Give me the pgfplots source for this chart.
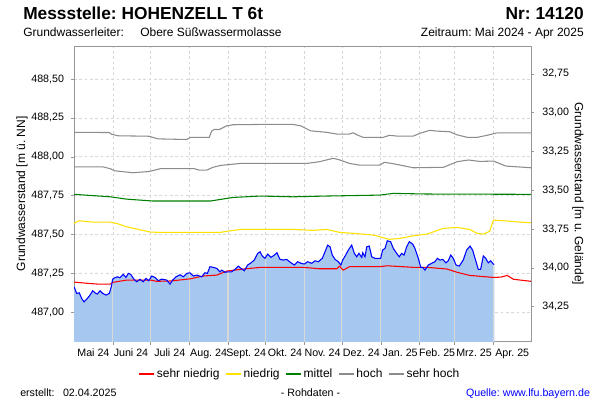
\documentclass[border=0pt]{standalone}
\usepackage{fontspec}
\setmainfont{Liberation Sans}
\usepackage{pgfplots}
\usepackage{pgfplotstable}
\pgfplotsset{compat=1.18}
\usepgfplotslibrary{fillbetween}
\frenchspacing

\definecolor{axisgray}{RGB}{150,150,150}
\definecolor{gridgray}{RGB}{215,215,215}
\definecolor{areablue}{RGB}{166,200,240}
\definecolor{levred}{RGB}{255,0,0}
\definecolor{levyellow}{RGB}{255,225,0}
\definecolor{levgreen}{RGB}{0,128,0}
\definecolor{levgray}{RGB}{140,140,140}

% Grundwasserstand, Tage ab 01.05.2024
\pgfplotstableread{
day level
0 487.163
2.2 487.120
4.2 487.124
6.1 487.088
8.0 487.066
10.1 487.082
12.8 487.109
14.9 487.137
16.8 487.124
18.6 487.116
20.8 487.137
22.9 487.120
25.6 487.109
28.2 487.120
29.8 487.163
30.9 487.212
32.7 487.221
34.6 487.227
36.7 487.221
39.4 487.243
41.5 487.223
43.4 487.249
45.3 487.243
47.4 487.217
50.1 487.195
52.7 487.211
55.3 487.195
57.5 487.217
59.7 487.202
62.1 487.232
64.7 487.223
67.3 487.202
70.0 487.212
74.0 487.206
76.7 487.180
78.8 487.206
81.5 487.227
84.7 487.240
87.3 487.227
90.0 487.249
92.6 487.253
95.3 487.232
98.0 487.238
102.0 487.227
104.6 487.253
106.5 487.249
108.6 487.292
111.3 487.288
114.0 487.281
116.6 487.259
118.0 487.270
120.6 487.256
123.2 487.259
125.9 487.259
128.6 487.275
131.2 487.296
133.4 487.281
136.0 487.266
138.7 487.303
141.4 487.317
144.0 487.335
146.7 487.378
148.6 487.388
150.4 487.361
152.5 487.346
154.7 487.373
157.3 487.352
160.0 487.367
162.1 487.382
164.5 487.339
167.2 487.335
169.9 487.339
173.3 487.317
176.0 487.303
178.7 487.324
181.3 487.314
183.9 487.309
186.6 487.324
189.8 487.314
192.5 487.330
195.1 487.324
198.3 487.346
200.5 487.388
202.6 487.431
204.5 487.420
206.3 487.367
208.5 487.339
211.1 487.324
213.2 487.303
214.6 487.335
217.0 487.367
219.1 487.399
221.8 487.431
223.9 487.378
225.8 487.356
227.6 487.378
229.8 487.352
230.6 487.382
232.4 487.356
233.8 487.420
235.8 487.425
237.8 487.356
240.4 487.346
244.9 487.346
246.5 487.399
248.4 487.410
250.2 487.459
252.9 487.453
255.0 487.410
257.7 487.378
259.8 487.356
261.7 487.378
263.6 487.367
265.7 487.420
267.8 487.453
270.5 487.438
272.3 487.410
275.0 487.346
276.9 487.288
278.5 487.288
280.3 487.270
283.0 487.303
285.7 487.314
288.3 487.324
290.2 487.346
292.3 487.335
294.5 487.339
297.1 487.317
298.9 487.330
300.9 487.367
302.9 487.346
305.1 487.303
307.7 487.296
310.9 487.335
313.6 487.399
316.3 487.425
318.4 487.399
320.3 487.346
322.9 487.275
324.8 487.275
326.9 487.361
328.8 487.346
330.9 487.317
332.8 487.330
334.9 487.309
335.7 487.307
}\messung

\pgfplotstableread{
day level
0 487.193
11 487.185
19 487.180
29 487.180
31 487.191
42 487.206
61 487.206
66 487.198
77 487.200
93 487.214
103 487.232
114 487.238
122 487.264
133 487.275
149 487.288
183 487.288
196 487.279
210 487.279
212 487.296
215 487.270
220 487.292
244 487.292
250 487.298
271 487.288
282 487.288
298 487.277
306 487.256
316 487.236
335 487.223
341 487.225
346 487.236
351 487.211
365 487.198
}\sehrniedrig

\pgfplotstableread{
day level
0 487.571
4 487.588
15 487.579
29 487.579
34 487.571
42 487.549
61 487.515
69 487.513
117 487.513
122 487.520
133 487.532
175 487.532
191 487.526
202 487.532
212 487.513
223 487.507
239 487.496
244 487.485
252 487.468
260 487.474
271 487.491
282 487.502
295 487.539
306 487.545
316 487.532
322 487.507
327 487.502
332 487.520
335 487.592
343 487.588
355 487.580
365 487.575
}\niedrig

\pgfplotstableread{
day level
0 487.758
29 487.742
42 487.727
63 487.715
109 487.715
127 487.738
149 487.747
175 487.742
202 487.747
244 487.753
255 487.764
282 487.760
365 487.758
}\mittel

\pgfplotstableread{
day level
0 487.935
23 487.935
29 487.923
32 487.910
47 487.897
60 487.905
69 487.923
96 487.923
100 487.914
106 487.914
111 487.932
117 487.944
133 487.957
186 487.957
196 487.968
207 487.990
212 487.980
220 487.957
228 487.946
244 487.946
248 487.964
255 487.955
271 487.929
295 487.932
306 487.968
315 487.979
324 487.970
335 487.972
345 487.940
365 487.929
}\hoch

\pgfplotstableread{
day level
0 488.157
28 488.156
30 488.145
35 488.135
60 488.132
67 488.115
90 488.111
93 488.125
108 488.125
110 488.165
112 488.176
116 488.175
122 488.199
127 488.206
149 488.208
175 488.208
181 488.199
189 488.167
202 488.157
210 488.146
220 488.146
223 488.154
226 488.141
231 488.125
247 488.125
252 488.138
258 488.133
271 488.133
276 488.150
284 488.170
290 488.165
300 488.161
306 488.141
314 488.125
322 488.125
330 488.138
338 488.154
365 488.154
}\sehrhoch

\begin{document}
\begin{tikzpicture}
\path (0,0) rectangle (450pt,300pt);

% Kopf
\node[anchor=base west, inner sep=0pt, font=\fontsize{13}{15}\selectfont\bfseries] at (17.25pt,285.5pt) {Messstelle: HOHENZELL T 6t};
\node[anchor=base east, inner sep=0pt, font=\fontsize{13}{15}\selectfont\bfseries] at (438pt,285.5pt) {Nr: 14120};
\node[anchor=base west, inner sep=0pt, font=\fontsize{9}{11}\selectfont] at (17.25pt,272.5pt) {Grundwasserleiter:};
\node[anchor=base west, inner sep=0pt, font=\fontsize{9}{11}\selectfont] at (105pt,272.5pt) {Obere Süßwassermolasse};
\node[anchor=base east, inner sep=0pt, font=\fontsize{9}{11}\selectfont] at (438pt,272.5pt) {Zeitraum: Mai 2024 - Apr 2025};

\begin{axis}[
  at={(55.5pt,43.7pt)}, anchor=south west,
  scale only axis, width=342.75pt, height=221.8pt,
  xmin=0, xmax=365, ymin=486.809, ymax=488.713,
  axis line style={draw=axisgray},
  tick style={draw=axisgray},
  tick align=outside, xtick pos=bottom, ytick pos=left,
  major tick length=2pt, minor tick length=2.5pt,
  xtick={15.5,45.5,76.5,107.5,137.5,168.5,198.5,229.5,260.5,290,319.5,350},
  xticklabels={Mai 24,Juni 24,Juli 24,Aug. 24,Sept. 24,Okt. 24,Nov. 24,Dez. 24,Jan. 25,Feb. 25,Mrz. 25,Apr. 25},
  major x tick style={draw=none},
  minor xtick={31,61,92,123,153,184,214,245,276,304,335},
  xminorgrids=true, ymajorgrids=true,
  grid style={draw=gridgray, dash pattern=on 2pt off 2pt, line width=0.4pt},
  ytick={487,487.25,487.5,487.75,488,488.25,488.5},
  /pgf/number format/assume math mode=true,
  xticklabel style={font=\fontsize{8}{9.6}\selectfont},
  yticklabel style={font=\fontsize{8}{9.6}\selectfont, xshift=-2pt,
    /pgf/number format/.cd, fixed, fixed zerofill, precision=2, use comma},
  ylabel={Grundwasserstand [m ü. NN]},
  ylabel style={at={(axis description cs:-0.114,0.5)}, anchor=center, font=\fontsize{9}{11}\selectfont},
  legend style={at={(axis description cs:0.4945,-0.109)}, anchor=center, draw=none, fill=none,
    legend columns=-1, font=\fontsize{9}{11}\selectfont,
    nodes={inner sep=1.5pt},
    /tikz/every even column/.append style={column sep=3pt}},
  legend image code/.code={\draw[#1] (0pt,0pt) -- (11.25pt,0pt);},
]
\addplot[draw=none, forget plot, name path=meas] table[x=day, y=level] {\messung};
\addplot[draw=none, forget plot, name path=bot] coordinates {(0,486.80) (335.7,486.80)};
\addplot[fill=areablue, draw=none, forget plot] fill between[of=meas and bot];

% helle Monatslinien in der Flaeche
\addplot[draw=gridgray, line width=0.8pt, forget plot, unbounded coords=jump] coordinates {
  (31,486.80) (31,487.212) (31,nan)
  (61,486.80) (61,487.218) (61,nan)
  (92,486.80) (92,487.252) (92,nan)
  (123,486.80) (123,487.259) (123,nan)
  (153,486.80) (153,487.352) (153,nan)
  (184,486.80) (184,487.310) (184,nan)
  (214,486.80) (214,487.321) (214,nan)
  (245,486.80) (245,487.350) (245,nan)
  (276,486.80) (276,487.315) (276,nan)
  (304,486.80) (304,487.324) (304,nan)
  (335,486.80) (335,487.309)
};

\addplot[levred, line width=0.8pt] table[x=day, y=level] {\sehrniedrig};
\addlegendentry{sehr niedrig}
\addplot[levyellow, line width=0.8pt] table[x=day, y=level] {\niedrig};
\addlegendentry{niedrig}
\addplot[levgreen, line width=0.8pt] table[x=day, y=level] {\mittel};
\addlegendentry{mittel}
\addplot[levgray, line width=0.8pt] table[x=day, y=level] {\hoch};
\addlegendentry{hoch}
\addplot[levgray, line width=0.8pt] table[x=day, y=level] {\sehrhoch};
\addlegendentry{sehr hoch}

\addplot[blue, line width=0.8pt, forget plot] table[x=day, y=level] {\messung};
\end{axis}

\begin{axis}[
  at={(55.5pt,43.7pt)}, anchor=south west,
  scale only axis, width=342.75pt, height=221.8pt,
  xmin=0, xmax=365, ymin=32.572, ymax=34.476, y dir=reverse,
  axis x line=none, axis y line*=right,
  axis line style={draw=axisgray},
  tick style={draw=axisgray},
  tick align=outside, major tick length=2pt,
  ytick={32.75,33,33.25,33.5,33.75,34,34.25},
  /pgf/number format/assume math mode=true,
  yticklabel style={font=\fontsize{8}{9.6}\selectfont, xshift=3pt,
    /pgf/number format/.cd, fixed, fixed zerofill, precision=2, use comma},
  ylabel={Grundwasserstand [m u. Gelände]},
  ylabel style={at={(axis description cs:1.103,0.5)}, anchor=center, rotate=180, font=\fontsize{9}{11}\selectfont},
]
% unsichtbar, nur fuer die rechte Achse
\addplot[draw=none] coordinates {(0,33.5) (365,33.5)};
\end{axis}

% Fuss
\node[anchor=base west, inner sep=0pt, font=\fontsize{8}{10}\selectfont] at (15pt,2.25pt) {erstellt:};
\node[anchor=base west, inner sep=0pt, font=\fontsize{8}{10}\selectfont] at (47.1pt,2.25pt) {02.04.2025};
\node[anchor=base, inner sep=0pt, font=\fontsize{8}{10}\selectfont] at (232.9pt,2.25pt) {- Rohdaten -};
\node[anchor=base east, inner sep=0pt, font=\fontsize{8}{10}\selectfont, text=blue] at (442.7pt,2.25pt) {Quelle: www.lfu.bayern.de};
\end{tikzpicture}
\end{document}
